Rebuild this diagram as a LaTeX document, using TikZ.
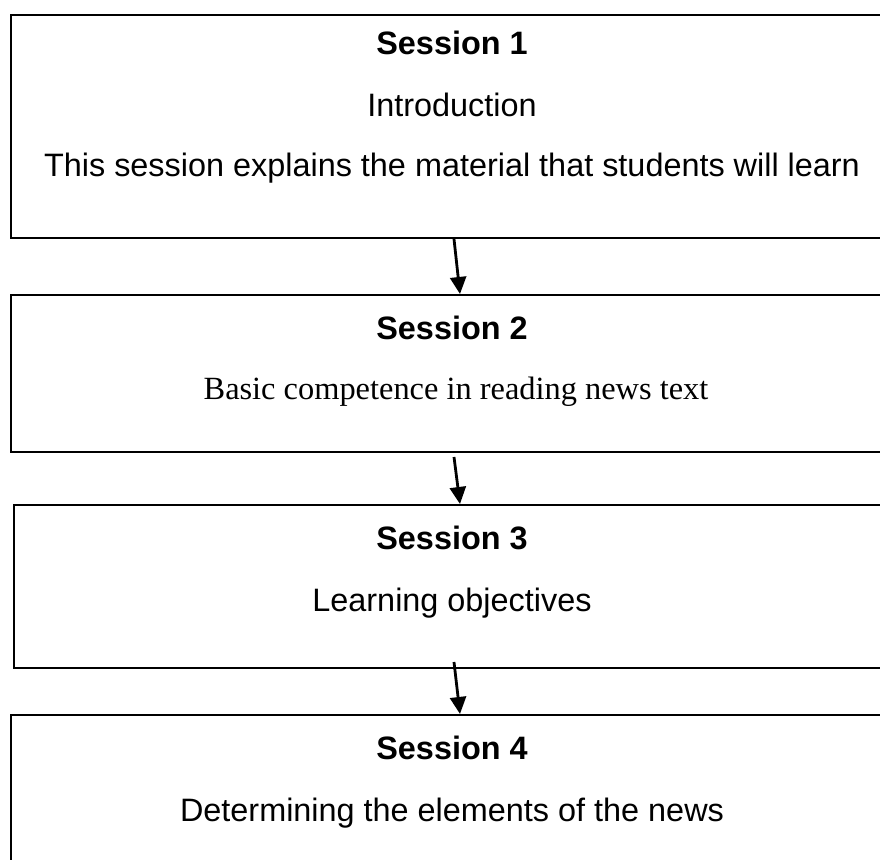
\documentclass[tikz,border=0pt]{standalone}
\usepackage{fontspec}
\setmainfont{Liberation Sans}
\newfontfamily\timesfont{Liberation Serif}
\usetikzlibrary{arrows.meta}
\newcommand{\sessfont}{\fontsize{16.2}{19}\selectfont}
\tikzset{
  sessbox/.style={draw,line width=1pt,anchor=north west,minimum width=445pt,inner sep=0pt},
  heading/.style={anchor=base,font=\sessfont\bfseries},
  body/.style={anchor=base,font=\sessfont},
  flow/.style={line width=1.4pt,-{Triangle[length=8.5pt,width=8pt]}}
}
\begin{document}
\begin{tikzpicture}[x=0.5pt,y=-0.5pt]
	\clip (0,0) rectangle (880,860);
	% boxes
	\node[sessbox,minimum height=111.5pt] (s1) at (10,14) {};
	\node[sessbox,minimum height=78.5pt] (s2) at (10,294) {};
	\node[sessbox,minimum height=81.5pt] (s3) at (13,504) {};
	\node[sessbox,minimum height=100pt] (s4) at (10,714) {};
	% texts
	\node[heading] (t1) at (452,55) {Session 1};
	\node[body] (i1) at (452,117) {Introduction};
	\node[body] (d1) at (452,177) {This session explains the material that students will learn};
	\node[heading] (t2) at (452,340) {Session 2};
	\node[body,font=\sessfont\timesfont] (d2) at (456,400) {Basic competence in reading news text};
	\node[heading] (t3) at (452,550) {Session 3};
	\node[body] (d3) at (452,612) {Learning objectives};
	\node[heading] (t4) at (452,760) {Session 4};
	\node[body] (d4) at (452,822) {Determining the elements of the news};
	% arrows
	\draw[flow] ([xshift=-1pt]s1.south) -- ([xshift=2pt]s2.north);
	\draw[flow] ([xshift=-1pt,yshift=-2pt]s2.south) -- ([xshift=0.5pt]s3.north);
	\draw[flow] ([xshift=-2.5pt,yshift=3.5pt]s3.south) -- ([xshift=2pt]s4.north);
\end{tikzpicture}
\end{document}
